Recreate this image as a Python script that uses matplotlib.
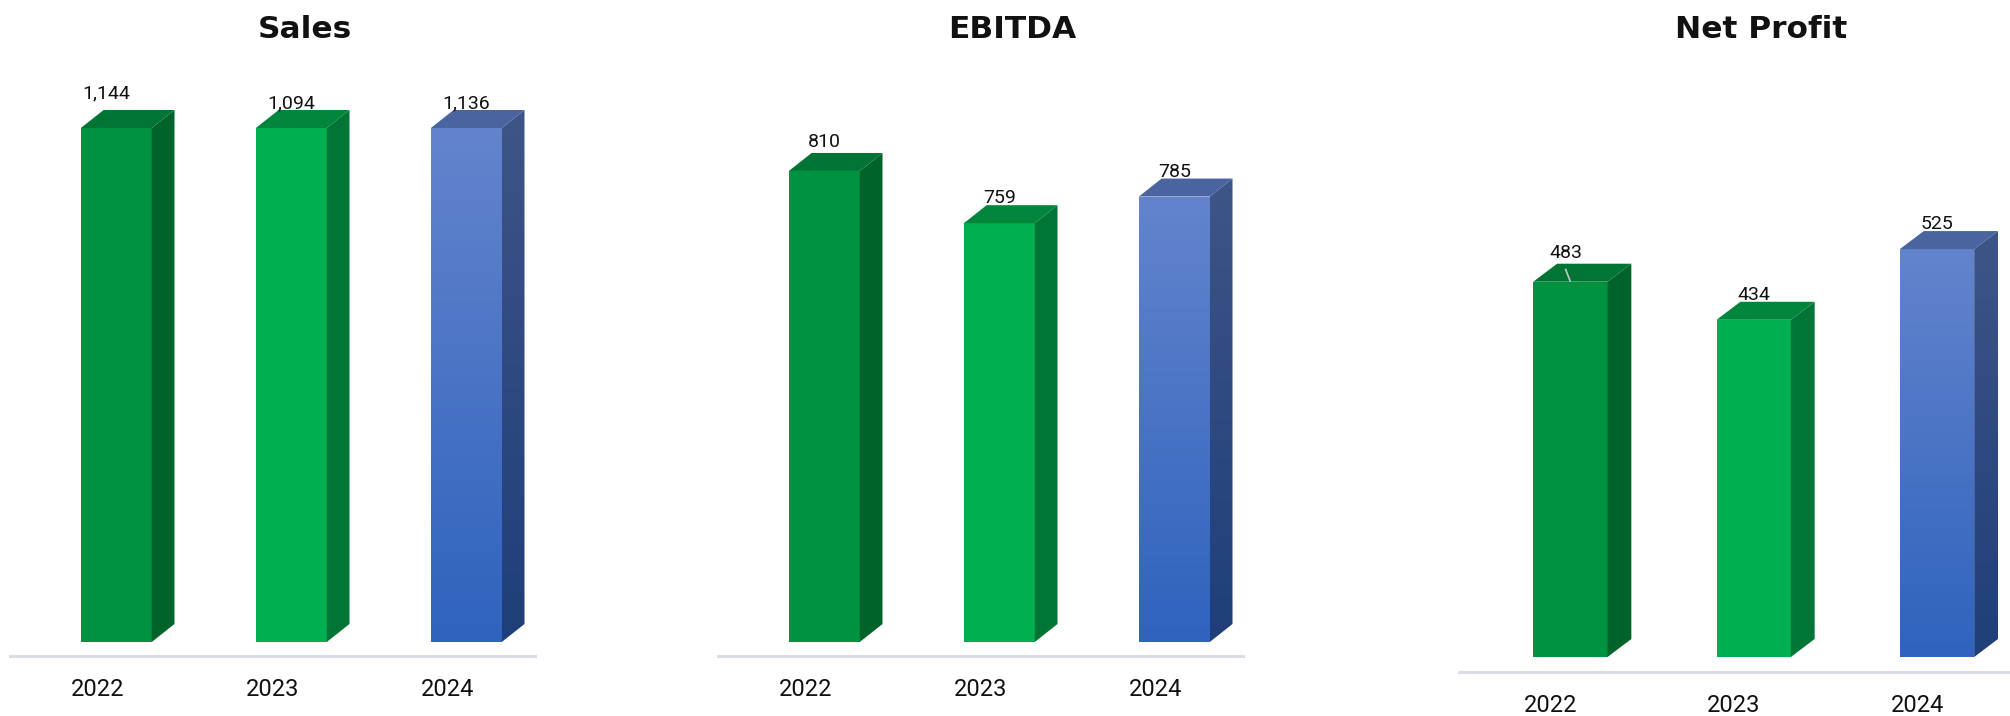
import numpy as np
import matplotlib.pyplot as plt
from matplotlib.patches import Polygon
from matplotlib.colors import LinearSegmentedColormap

plt.rcParams['font.family'] = ['Roboto', 'DejaVu Sans']

years = ['2022', '2023', '2024']
sales = [1144, 1094, 1136]
ebitda = [810, 759, 785]
net_profit = [483, 434, 525]
titles = ['Sales', 'EBITDA', 'Net Profit']

W, H = 2010, 716
fig = plt.figure(figsize=(W / 100, H / 100), dpi=100)

# per panel layout in pixels: axes left/width, bar foot, axis line, value floor,
# pixels per unit, axis cap (bars above it get cut), title centre
layout = [
    dict(left=10, width=525, foot=642, axis=656, floor=0, ppu=0.514, cap=1000, tx=305),
    dict(left=718, width=525, foot=642, axis=656, floor=350, ppu=1.024, cap=None, tx=1012),
    dict(left=1459, width=550, foot=657, axis=672, floor=0, ppu=0.777, cap=None, tx=1761),
]
# label nudges (px) for a few labels
nudge = {(0, 0): (-10, 12), (1, 0): (0, 6), (2, 0): (-5, 6)}

front_cols = ['#00933F', '#00B050', ('#6384CD', '#2F63BD')]
side_cols = ['#00632A', '#007535', ('#3E5587', '#1F3E7A')]
top_cols = ['#007533', '#00863C', '#4A64A0']

DX = 0.13      # depth in x units
DY_PX = 18     # depth rise in px
TOP_PX = 45


def grad_fill(ax, poly, c_top, c_bot, x0, x1, y0, y1):
    cmap = LinearSegmentedColormap.from_list('g', [c_bot, c_top])
    g = np.linspace(0, 1, 256).reshape(-1, 1)
    im = ax.imshow(g, cmap=cmap, extent=[x0, x1, y0, y1], origin='lower',
                   aspect='auto', zorder=2, interpolation='bilinear')
    im.set_clip_path(poly)


for p, (title, vals, lay) in enumerate(zip(titles, [sales, ebitda, net_profit], layout)):
    ax = fig.add_axes([lay['left'] / W, (H - lay['axis']) / H,
                       lay['width'] / W, (lay['axis'] - TOP_PX) / H])
    ppu = lay['ppu']
    lo = lay['floor'] - (lay['axis'] - lay['foot']) / ppu
    hi = lo + (lay['axis'] - TOP_PX) / ppu
    dyd = DY_PX / ppu
    base = lay['floor']

    heights = np.array(vals, dtype=float)
    if lay['cap'] is not None:
        heights = np.minimum(heights, lay['cap'])

    for i, (v, h) in enumerate(zip(vals, heights)):
        x0, x1 = i - 0.095, i + 0.31
        front = Polygon([(x0, base), (x1, base), (x1, h), (x0, h)], closed=True)
        side = Polygon([(x1, base), (x1 + DX, base + dyd), (x1 + DX, h + dyd), (x1, h)], closed=True)
        top = Polygon([(x0, h), (x0 + DX, h + dyd), (x1 + DX, h + dyd), (x1, h)], closed=True)

        if isinstance(front_cols[i], tuple):
            for poly in (front, side):
                poly.set_facecolor('none')
                poly.set_linewidth(0)
                ax.add_patch(poly)
            grad_fill(ax, front, front_cols[i][0], front_cols[i][1], x0, x1, base, h)
            grad_fill(ax, side, side_cols[i][0], side_cols[i][1], x1, x1 + DX, base, h + dyd)
        else:
            front.set_facecolor(front_cols[i])
            side.set_facecolor(side_cols[i])
            for poly in (front, side):
                poly.set_linewidth(0)
                poly.set_zorder(2)
                ax.add_patch(poly)
        top.set_facecolor(top_cols[i])
        top.set_linewidth(0)
        top.set_zorder(2)
        ax.add_patch(top)

        cx = (x0 + x1) / 2
        ndx, ngap = nudge.get((p, i), (0, 2))
        ax.annotate(f'{v:,}', xy=(cx, h + dyd), xytext=(ndx, ngap),
                    textcoords='offset pixels', ha='center', va='baseline',
                    fontsize=14, color='#111111', zorder=5)
        if (p, i) == (2, 0):
            # small leader from the label down to the bar
            ax.plot([cx - 5 / 183.5, cx], [h + 13 / ppu, h], color='#C3C9D6',
                    lw=1.2, zorder=4, solid_capstyle='butt')

        ax.annotate(years[i], xy=(i, 0), xycoords=('data', 'axes fraction'),
                    xytext=(0, -40), textcoords='offset pixels', ha='center',
                    va='baseline', fontsize=17, color='#111111')

    ax.set_xlim(-0.5, 2.5)
    ax.set_ylim(lo, hi)
    ax.set_xticks([])
    ax.set_yticks([])
    for s in ('top', 'left', 'right'):
        ax.spines[s].set_visible(False)
    ax.spines['bottom'].set_color('#DADDE7')
    ax.spines['bottom'].set_linewidth(2.2)
    ax.patch.set_alpha(0)

    fig.text(lay['tx'] / W, 1 - 38 / H, title, ha='center', va='baseline',
             fontsize=22.5, fontweight='bold', color='#111111',
             family=['DejaVu Sans'])

fig.savefig('out.png', dpi=100, facecolor='white')
